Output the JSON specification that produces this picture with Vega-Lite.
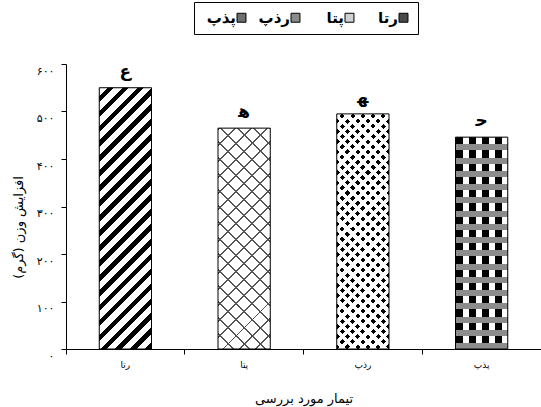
{
  "$schema": "https://vega.github.io/schema/vega-lite/v6.json",
  "autosize": {"type": "none"},
  "padding": {"left": 66, "top": 64, "right": 0, "bottom": 58},
  "width": 475,
  "height": 285,
  "config": {"font": "DejaVu Sans", "view": {"stroke": null}},
  "data": {"values": [
    {"cat": "رتا", "value": 550, "letter": "ع"},
    {"cat": "پتا", "value": 465, "letter": "ﻫ"},
    {"cat": "رذپ", "value": 495, "letter": "ﻬ"},
    {"cat": "پذپ", "value": 446, "letter": "ﺣ"}
  ]},
  "encoding": {
    "x": {"field": "cat", "type": "nominal", "sort": ["رتا", "پتا", "رذپ", "پذپ"],
      "scale": {"paddingInner": 0, "paddingOuter": 0},
      "axis": {"title": "تیمار مورد بررسی", "labelAngle": 0, "bandPosition": 0, "domainColor": "#000", "tickColor": "#000", "tickSize": 5,
        "labelFontSize": 9, "labelColor": "#000", "labelPadding": 6, "titleFontSize": 13, "titleFontWeight": "normal", "titleColor": "#000", "titleY": 49, "titleBaseline": "middle"}},
    "y": {"field": "value", "type": "quantitative", "scale": {"domain": [0, 600]},
      "axis": {"title": "افزایش وزن (گرم)", "values": [0, 100, 200, 300, 400, 500, 600], "grid": false, "domainColor": "#000", "tickColor": "#000", "tickSize": 5,
        "labelExpr": "datum.value == 0 ? '۰' : ['۰','۱','۲','۳','۴','۵','۶'][datum.value / 100] + '۰۰'",
        "labelFontSize": 11, "labelColor": "#000", "labelPadding": 7, "labelOffset": 7,
        "titleFontSize": 13, "titleFontWeight": "normal", "titleColor": "#000", "titleX": -48, "titleY": 163, "titleBaseline": "middle"}}
  },
  "layer": [
    {
      "mark": {"type": "bar", "width": {"band": 0.44}},
      "encoding": {"fill": {"field": "cat", "type": "nominal",
        "scale": {"domain": ["پذپ", "رذپ", "پتا", "رتا"], "range": ["#6e6e6e", "#8a8a8a", "#d0d0d0", "#4a4a4a"]},
        "legend": {"title": null, "orient": "none", "legendX": 128, "legendY": -62, "direction": "horizontal", "symbolType": "square", "symbolSize": 80,
          "symbolStrokeColor": "#000", "symbolStrokeWidth": 1, "labelFontSize": 15, "labelFontWeight": "bold", "labelColor": "#000", "columnPadding": 8,
          "labelAlign": "right", "labelOffset": -13, "symbolOffset": 32,
          "strokeColor": "#000", "fillColor": "#fff", "padding": 8}}}
    },
    {
      "transform": [{"filter": "datum.cat == 'رتا'"}],
      "mark": {"type": "bar", "width": {"band": 0.44}, "fill": {"gradient": "linear", "x1": 0, "y1": 0, "x2": 0.2308, "y2": 1.154, "stops": [
        {"offset": 0, "color": "#fff"}, {"offset": 0.0262, "color": "#fff"}, {"offset": 0.0262, "color": "#000"}, {"offset": 0.0476, "color": "#000"},
        {"offset": 0.0476, "color": "#fff"}, {"offset": 0.0738, "color": "#fff"}, {"offset": 0.0738, "color": "#000"}, {"offset": 0.0952, "color": "#000"},
        {"offset": 0.0952, "color": "#fff"}, {"offset": 0.1214, "color": "#fff"}, {"offset": 0.1214, "color": "#000"}, {"offset": 0.1429, "color": "#000"},
        {"offset": 0.1429, "color": "#fff"}, {"offset": 0.1690, "color": "#fff"}, {"offset": 0.1690, "color": "#000"}, {"offset": 0.1905, "color": "#000"},
        {"offset": 0.1905, "color": "#fff"}, {"offset": 0.2167, "color": "#fff"}, {"offset": 0.2167, "color": "#000"}, {"offset": 0.2381, "color": "#000"},
        {"offset": 0.2381, "color": "#fff"}, {"offset": 0.2643, "color": "#fff"}, {"offset": 0.2643, "color": "#000"}, {"offset": 0.2857, "color": "#000"},
        {"offset": 0.2857, "color": "#fff"}, {"offset": 0.3119, "color": "#fff"}, {"offset": 0.3119, "color": "#000"}, {"offset": 0.3333, "color": "#000"},
        {"offset": 0.3333, "color": "#fff"}, {"offset": 0.3595, "color": "#fff"}, {"offset": 0.3595, "color": "#000"}, {"offset": 0.3810, "color": "#000"},
        {"offset": 0.3810, "color": "#fff"}, {"offset": 0.4071, "color": "#fff"}, {"offset": 0.4071, "color": "#000"}, {"offset": 0.4286, "color": "#000"},
        {"offset": 0.4286, "color": "#fff"}, {"offset": 0.4548, "color": "#fff"}, {"offset": 0.4548, "color": "#000"}, {"offset": 0.4762, "color": "#000"},
        {"offset": 0.4762, "color": "#fff"}, {"offset": 0.5024, "color": "#fff"}, {"offset": 0.5024, "color": "#000"}, {"offset": 0.5238, "color": "#000"},
        {"offset": 0.5238, "color": "#fff"}, {"offset": 0.5500, "color": "#fff"}, {"offset": 0.5500, "color": "#000"}, {"offset": 0.5714, "color": "#000"},
        {"offset": 0.5714, "color": "#fff"}, {"offset": 0.5976, "color": "#fff"}, {"offset": 0.5976, "color": "#000"}, {"offset": 0.6190, "color": "#000"},
        {"offset": 0.6190, "color": "#fff"}, {"offset": 0.6452, "color": "#fff"}, {"offset": 0.6452, "color": "#000"}, {"offset": 0.6667, "color": "#000"},
        {"offset": 0.6667, "color": "#fff"}, {"offset": 0.6929, "color": "#fff"}, {"offset": 0.6929, "color": "#000"}, {"offset": 0.7143, "color": "#000"},
        {"offset": 0.7143, "color": "#fff"}, {"offset": 0.7405, "color": "#fff"}, {"offset": 0.7405, "color": "#000"}, {"offset": 0.7619, "color": "#000"},
        {"offset": 0.7619, "color": "#fff"}, {"offset": 0.7881, "color": "#fff"}, {"offset": 0.7881, "color": "#000"}, {"offset": 0.8095, "color": "#000"},
        {"offset": 0.8095, "color": "#fff"}, {"offset": 0.8357, "color": "#fff"}, {"offset": 0.8357, "color": "#000"}, {"offset": 0.8571, "color": "#000"},
        {"offset": 0.8571, "color": "#fff"}, {"offset": 0.8833, "color": "#fff"}, {"offset": 0.8833, "color": "#000"}, {"offset": 0.9048, "color": "#000"},
        {"offset": 0.9048, "color": "#fff"}, {"offset": 0.9310, "color": "#fff"}, {"offset": 0.9310, "color": "#000"}, {"offset": 0.9524, "color": "#000"},
        {"offset": 0.9524, "color": "#fff"}, {"offset": 0.9786, "color": "#fff"}, {"offset": 0.9786, "color": "#000"}, {"offset": 1, "color": "#000"}
      ]}}
    },
    {
      "transform": [{"filter": "datum.cat == 'پتا'"}],
      "mark": {"type": "bar", "width": {"band": 0.44}, "fill": {"gradient": "linear", "x1": 0, "y1": 0, "x2": 0.277, "y2": 1.171, "stops": [
        {"offset": 0, "color": "#555"}, {"offset": 0.0071, "color": "#555"}, {"offset": 0.0071, "color": "#fff"}, {"offset": 0.0588, "color": "#fff"},
        {"offset": 0.0588, "color": "#555"}, {"offset": 0.0659, "color": "#555"}, {"offset": 0.0659, "color": "#fff"}, {"offset": 0.1176, "color": "#fff"},
        {"offset": 0.1176, "color": "#555"}, {"offset": 0.1247, "color": "#555"}, {"offset": 0.1247, "color": "#fff"}, {"offset": 0.1765, "color": "#fff"},
        {"offset": 0.1765, "color": "#555"}, {"offset": 0.1836, "color": "#555"}, {"offset": 0.1836, "color": "#fff"}, {"offset": 0.2353, "color": "#fff"},
        {"offset": 0.2353, "color": "#555"}, {"offset": 0.2424, "color": "#555"}, {"offset": 0.2424, "color": "#fff"}, {"offset": 0.2941, "color": "#fff"},
        {"offset": 0.2941, "color": "#555"}, {"offset": 0.3012, "color": "#555"}, {"offset": 0.3012, "color": "#fff"}, {"offset": 0.3529, "color": "#fff"},
        {"offset": 0.3529, "color": "#555"}, {"offset": 0.3600, "color": "#555"}, {"offset": 0.3600, "color": "#fff"}, {"offset": 0.4118, "color": "#fff"},
        {"offset": 0.4118, "color": "#555"}, {"offset": 0.4189, "color": "#555"}, {"offset": 0.4189, "color": "#fff"}, {"offset": 0.4706, "color": "#fff"},
        {"offset": 0.4706, "color": "#555"}, {"offset": 0.4777, "color": "#555"}, {"offset": 0.4777, "color": "#fff"}, {"offset": 0.5294, "color": "#fff"},
        {"offset": 0.5294, "color": "#555"}, {"offset": 0.5365, "color": "#555"}, {"offset": 0.5365, "color": "#fff"}, {"offset": 0.5882, "color": "#fff"},
        {"offset": 0.5882, "color": "#555"}, {"offset": 0.5953, "color": "#555"}, {"offset": 0.5953, "color": "#fff"}, {"offset": 0.6471, "color": "#fff"},
        {"offset": 0.6471, "color": "#555"}, {"offset": 0.6542, "color": "#555"}, {"offset": 0.6542, "color": "#fff"}, {"offset": 0.7059, "color": "#fff"},
        {"offset": 0.7059, "color": "#555"}, {"offset": 0.7130, "color": "#555"}, {"offset": 0.7130, "color": "#fff"}, {"offset": 0.7647, "color": "#fff"},
        {"offset": 0.7647, "color": "#555"}, {"offset": 0.7718, "color": "#555"}, {"offset": 0.7718, "color": "#fff"}, {"offset": 0.8235, "color": "#fff"},
        {"offset": 0.8235, "color": "#555"}, {"offset": 0.8306, "color": "#555"}, {"offset": 0.8306, "color": "#fff"}, {"offset": 0.8824, "color": "#fff"},
        {"offset": 0.8824, "color": "#555"}, {"offset": 0.8895, "color": "#555"}, {"offset": 0.8895, "color": "#fff"}, {"offset": 0.9412, "color": "#fff"},
        {"offset": 0.9412, "color": "#555"}, {"offset": 0.9483, "color": "#555"}, {"offset": 0.9483, "color": "#fff"}, {"offset": 1, "color": "#fff"}
      ]}}
    },
    {
      "transform": [{"filter": "datum.cat == 'پتا'"}],
      "mark": {"type": "bar", "width": {"band": 0.44}, "fill": {"gradient": "linear", "x1": 1, "y1": 0, "x2": 0.723, "y2": 1.171, "stops": [
        {"offset": 0, "color": "#555"}, {"offset": 0.0071, "color": "#555"}, {"offset": 0.0071, "color": "rgba(0,0,0,0)"}, {"offset": 0.0588, "color": "rgba(0,0,0,0)"},
        {"offset": 0.0588, "color": "#555"}, {"offset": 0.0659, "color": "#555"}, {"offset": 0.0659, "color": "rgba(0,0,0,0)"}, {"offset": 0.1176, "color": "rgba(0,0,0,0)"},
        {"offset": 0.1176, "color": "#555"}, {"offset": 0.1247, "color": "#555"}, {"offset": 0.1247, "color": "rgba(0,0,0,0)"}, {"offset": 0.1765, "color": "rgba(0,0,0,0)"},
        {"offset": 0.1765, "color": "#555"}, {"offset": 0.1836, "color": "#555"}, {"offset": 0.1836, "color": "rgba(0,0,0,0)"}, {"offset": 0.2353, "color": "rgba(0,0,0,0)"},
        {"offset": 0.2353, "color": "#555"}, {"offset": 0.2424, "color": "#555"}, {"offset": 0.2424, "color": "rgba(0,0,0,0)"}, {"offset": 0.2941, "color": "rgba(0,0,0,0)"},
        {"offset": 0.2941, "color": "#555"}, {"offset": 0.3012, "color": "#555"}, {"offset": 0.3012, "color": "rgba(0,0,0,0)"}, {"offset": 0.3529, "color": "rgba(0,0,0,0)"},
        {"offset": 0.3529, "color": "#555"}, {"offset": 0.3600, "color": "#555"}, {"offset": 0.3600, "color": "rgba(0,0,0,0)"}, {"offset": 0.4118, "color": "rgba(0,0,0,0)"},
        {"offset": 0.4118, "color": "#555"}, {"offset": 0.4189, "color": "#555"}, {"offset": 0.4189, "color": "rgba(0,0,0,0)"}, {"offset": 0.4706, "color": "rgba(0,0,0,0)"},
        {"offset": 0.4706, "color": "#555"}, {"offset": 0.4777, "color": "#555"}, {"offset": 0.4777, "color": "rgba(0,0,0,0)"}, {"offset": 0.5294, "color": "rgba(0,0,0,0)"},
        {"offset": 0.5294, "color": "#555"}, {"offset": 0.5365, "color": "#555"}, {"offset": 0.5365, "color": "rgba(0,0,0,0)"}, {"offset": 0.5882, "color": "rgba(0,0,0,0)"},
        {"offset": 0.5882, "color": "#555"}, {"offset": 0.5953, "color": "#555"}, {"offset": 0.5953, "color": "rgba(0,0,0,0)"}, {"offset": 0.6471, "color": "rgba(0,0,0,0)"},
        {"offset": 0.6471, "color": "#555"}, {"offset": 0.6542, "color": "#555"}, {"offset": 0.6542, "color": "rgba(0,0,0,0)"}, {"offset": 0.7059, "color": "rgba(0,0,0,0)"},
        {"offset": 0.7059, "color": "#555"}, {"offset": 0.7130, "color": "#555"}, {"offset": 0.7130, "color": "rgba(0,0,0,0)"}, {"offset": 0.7647, "color": "rgba(0,0,0,0)"},
        {"offset": 0.7647, "color": "#555"}, {"offset": 0.7718, "color": "#555"}, {"offset": 0.7718, "color": "rgba(0,0,0,0)"}, {"offset": 0.8235, "color": "rgba(0,0,0,0)"},
        {"offset": 0.8235, "color": "#555"}, {"offset": 0.8306, "color": "#555"}, {"offset": 0.8306, "color": "rgba(0,0,0,0)"}, {"offset": 0.8824, "color": "rgba(0,0,0,0)"},
        {"offset": 0.8824, "color": "#555"}, {"offset": 0.8895, "color": "#555"}, {"offset": 0.8895, "color": "rgba(0,0,0,0)"}, {"offset": 0.9412, "color": "rgba(0,0,0,0)"},
        {"offset": 0.9412, "color": "#555"}, {"offset": 0.9483, "color": "#555"}, {"offset": 0.9483, "color": "rgba(0,0,0,0)"}, {"offset": 1, "color": "rgba(0,0,0,0)"}
      ]}}
    },
    {
      "transform": [{"filter": "datum.cat == 'رذپ'"}],
      "mark": {"type": "bar", "width": {"band": 0.44}, "fill": {"gradient": "linear", "x1": 0, "y1": 0, "x2": 0.2588, "y2": 1.165, "stops": [
        {"offset": 0, "color": "#fff"}, {"offset": 0.0180, "color": "#fff"}, {"offset": 0.0180, "color": "#000"}, {"offset": 0.0357, "color": "#000"},
        {"offset": 0.0357, "color": "#fff"}, {"offset": 0.0537, "color": "#fff"}, {"offset": 0.0537, "color": "#000"}, {"offset": 0.0714, "color": "#000"},
        {"offset": 0.0714, "color": "#fff"}, {"offset": 0.0894, "color": "#fff"}, {"offset": 0.0894, "color": "#000"}, {"offset": 0.1071, "color": "#000"},
        {"offset": 0.1071, "color": "#fff"}, {"offset": 0.1251, "color": "#fff"}, {"offset": 0.1251, "color": "#000"}, {"offset": 0.1429, "color": "#000"},
        {"offset": 0.1429, "color": "#fff"}, {"offset": 0.1609, "color": "#fff"}, {"offset": 0.1609, "color": "#000"}, {"offset": 0.1786, "color": "#000"},
        {"offset": 0.1786, "color": "#fff"}, {"offset": 0.1966, "color": "#fff"}, {"offset": 0.1966, "color": "#000"}, {"offset": 0.2143, "color": "#000"},
        {"offset": 0.2143, "color": "#fff"}, {"offset": 0.2323, "color": "#fff"}, {"offset": 0.2323, "color": "#000"}, {"offset": 0.2500, "color": "#000"},
        {"offset": 0.2500, "color": "#fff"}, {"offset": 0.2680, "color": "#fff"}, {"offset": 0.2680, "color": "#000"}, {"offset": 0.2857, "color": "#000"},
        {"offset": 0.2857, "color": "#fff"}, {"offset": 0.3037, "color": "#fff"}, {"offset": 0.3037, "color": "#000"}, {"offset": 0.3214, "color": "#000"},
        {"offset": 0.3214, "color": "#fff"}, {"offset": 0.3394, "color": "#fff"}, {"offset": 0.3394, "color": "#000"}, {"offset": 0.3571, "color": "#000"},
        {"offset": 0.3571, "color": "#fff"}, {"offset": 0.3751, "color": "#fff"}, {"offset": 0.3751, "color": "#000"}, {"offset": 0.3929, "color": "#000"},
        {"offset": 0.3929, "color": "#fff"}, {"offset": 0.4109, "color": "#fff"}, {"offset": 0.4109, "color": "#000"}, {"offset": 0.4286, "color": "#000"},
        {"offset": 0.4286, "color": "#fff"}, {"offset": 0.4466, "color": "#fff"}, {"offset": 0.4466, "color": "#000"}, {"offset": 0.4643, "color": "#000"},
        {"offset": 0.4643, "color": "#fff"}, {"offset": 0.4823, "color": "#fff"}, {"offset": 0.4823, "color": "#000"}, {"offset": 0.5000, "color": "#000"},
        {"offset": 0.5000, "color": "#fff"}, {"offset": 0.5180, "color": "#fff"}, {"offset": 0.5180, "color": "#000"}, {"offset": 0.5357, "color": "#000"},
        {"offset": 0.5357, "color": "#fff"}, {"offset": 0.5537, "color": "#fff"}, {"offset": 0.5537, "color": "#000"}, {"offset": 0.5714, "color": "#000"},
        {"offset": 0.5714, "color": "#fff"}, {"offset": 0.5894, "color": "#fff"}, {"offset": 0.5894, "color": "#000"}, {"offset": 0.6071, "color": "#000"},
        {"offset": 0.6071, "color": "#fff"}, {"offset": 0.6251, "color": "#fff"}, {"offset": 0.6251, "color": "#000"}, {"offset": 0.6429, "color": "#000"},
        {"offset": 0.6429, "color": "#fff"}, {"offset": 0.6609, "color": "#fff"}, {"offset": 0.6609, "color": "#000"}, {"offset": 0.6786, "color": "#000"},
        {"offset": 0.6786, "color": "#fff"}, {"offset": 0.6966, "color": "#fff"}, {"offset": 0.6966, "color": "#000"}, {"offset": 0.7143, "color": "#000"},
        {"offset": 0.7143, "color": "#fff"}, {"offset": 0.7323, "color": "#fff"}, {"offset": 0.7323, "color": "#000"}, {"offset": 0.7500, "color": "#000"},
        {"offset": 0.7500, "color": "#fff"}, {"offset": 0.7680, "color": "#fff"}, {"offset": 0.7680, "color": "#000"}, {"offset": 0.7857, "color": "#000"},
        {"offset": 0.7857, "color": "#fff"}, {"offset": 0.8037, "color": "#fff"}, {"offset": 0.8037, "color": "#000"}, {"offset": 0.8214, "color": "#000"},
        {"offset": 0.8214, "color": "#fff"}, {"offset": 0.8394, "color": "#fff"}, {"offset": 0.8394, "color": "#000"}, {"offset": 0.8571, "color": "#000"},
        {"offset": 0.8571, "color": "#fff"}, {"offset": 0.8751, "color": "#fff"}, {"offset": 0.8751, "color": "#000"}, {"offset": 0.8929, "color": "#000"},
        {"offset": 0.8929, "color": "#fff"}, {"offset": 0.9109, "color": "#fff"}, {"offset": 0.9109, "color": "#000"}, {"offset": 0.9286, "color": "#000"},
        {"offset": 0.9286, "color": "#fff"}, {"offset": 0.9466, "color": "#fff"}, {"offset": 0.9466, "color": "#000"}, {"offset": 0.9643, "color": "#000"},
        {"offset": 0.9643, "color": "#fff"}, {"offset": 0.9823, "color": "#fff"}, {"offset": 0.9823, "color": "#000"}, {"offset": 1, "color": "#000"}
      ]}}
    },
    {
      "transform": [{"filter": "datum.cat == 'رذپ'"}],
      "mark": {"type": "bar", "width": {"band": 0.44}, "fill": {"gradient": "linear", "x1": 1, "y1": 0, "x2": 0.7412, "y2": 1.165, "stops": [
        {"offset": 0, "color": "#fff"}, {"offset": 0.0180, "color": "#fff"}, {"offset": 0.0180, "color": "rgba(0,0,0,0)"}, {"offset": 0.0357, "color": "rgba(0,0,0,0)"},
        {"offset": 0.0357, "color": "#fff"}, {"offset": 0.0537, "color": "#fff"}, {"offset": 0.0537, "color": "rgba(0,0,0,0)"}, {"offset": 0.0714, "color": "rgba(0,0,0,0)"},
        {"offset": 0.0714, "color": "#fff"}, {"offset": 0.0894, "color": "#fff"}, {"offset": 0.0894, "color": "rgba(0,0,0,0)"}, {"offset": 0.1071, "color": "rgba(0,0,0,0)"},
        {"offset": 0.1071, "color": "#fff"}, {"offset": 0.1251, "color": "#fff"}, {"offset": 0.1251, "color": "rgba(0,0,0,0)"}, {"offset": 0.1429, "color": "rgba(0,0,0,0)"},
        {"offset": 0.1429, "color": "#fff"}, {"offset": 0.1609, "color": "#fff"}, {"offset": 0.1609, "color": "rgba(0,0,0,0)"}, {"offset": 0.1786, "color": "rgba(0,0,0,0)"},
        {"offset": 0.1786, "color": "#fff"}, {"offset": 0.1966, "color": "#fff"}, {"offset": 0.1966, "color": "rgba(0,0,0,0)"}, {"offset": 0.2143, "color": "rgba(0,0,0,0)"},
        {"offset": 0.2143, "color": "#fff"}, {"offset": 0.2323, "color": "#fff"}, {"offset": 0.2323, "color": "rgba(0,0,0,0)"}, {"offset": 0.2500, "color": "rgba(0,0,0,0)"},
        {"offset": 0.2500, "color": "#fff"}, {"offset": 0.2680, "color": "#fff"}, {"offset": 0.2680, "color": "rgba(0,0,0,0)"}, {"offset": 0.2857, "color": "rgba(0,0,0,0)"},
        {"offset": 0.2857, "color": "#fff"}, {"offset": 0.3037, "color": "#fff"}, {"offset": 0.3037, "color": "rgba(0,0,0,0)"}, {"offset": 0.3214, "color": "rgba(0,0,0,0)"},
        {"offset": 0.3214, "color": "#fff"}, {"offset": 0.3394, "color": "#fff"}, {"offset": 0.3394, "color": "rgba(0,0,0,0)"}, {"offset": 0.3571, "color": "rgba(0,0,0,0)"},
        {"offset": 0.3571, "color": "#fff"}, {"offset": 0.3751, "color": "#fff"}, {"offset": 0.3751, "color": "rgba(0,0,0,0)"}, {"offset": 0.3929, "color": "rgba(0,0,0,0)"},
        {"offset": 0.3929, "color": "#fff"}, {"offset": 0.4109, "color": "#fff"}, {"offset": 0.4109, "color": "rgba(0,0,0,0)"}, {"offset": 0.4286, "color": "rgba(0,0,0,0)"},
        {"offset": 0.4286, "color": "#fff"}, {"offset": 0.4466, "color": "#fff"}, {"offset": 0.4466, "color": "rgba(0,0,0,0)"}, {"offset": 0.4643, "color": "rgba(0,0,0,0)"},
        {"offset": 0.4643, "color": "#fff"}, {"offset": 0.4823, "color": "#fff"}, {"offset": 0.4823, "color": "rgba(0,0,0,0)"}, {"offset": 0.5000, "color": "rgba(0,0,0,0)"},
        {"offset": 0.5000, "color": "#fff"}, {"offset": 0.5180, "color": "#fff"}, {"offset": 0.5180, "color": "rgba(0,0,0,0)"}, {"offset": 0.5357, "color": "rgba(0,0,0,0)"},
        {"offset": 0.5357, "color": "#fff"}, {"offset": 0.5537, "color": "#fff"}, {"offset": 0.5537, "color": "rgba(0,0,0,0)"}, {"offset": 0.5714, "color": "rgba(0,0,0,0)"},
        {"offset": 0.5714, "color": "#fff"}, {"offset": 0.5894, "color": "#fff"}, {"offset": 0.5894, "color": "rgba(0,0,0,0)"}, {"offset": 0.6071, "color": "rgba(0,0,0,0)"},
        {"offset": 0.6071, "color": "#fff"}, {"offset": 0.6251, "color": "#fff"}, {"offset": 0.6251, "color": "rgba(0,0,0,0)"}, {"offset": 0.6429, "color": "rgba(0,0,0,0)"},
        {"offset": 0.6429, "color": "#fff"}, {"offset": 0.6609, "color": "#fff"}, {"offset": 0.6609, "color": "rgba(0,0,0,0)"}, {"offset": 0.6786, "color": "rgba(0,0,0,0)"},
        {"offset": 0.6786, "color": "#fff"}, {"offset": 0.6966, "color": "#fff"}, {"offset": 0.6966, "color": "rgba(0,0,0,0)"}, {"offset": 0.7143, "color": "rgba(0,0,0,0)"},
        {"offset": 0.7143, "color": "#fff"}, {"offset": 0.7323, "color": "#fff"}, {"offset": 0.7323, "color": "rgba(0,0,0,0)"}, {"offset": 0.7500, "color": "rgba(0,0,0,0)"},
        {"offset": 0.7500, "color": "#fff"}, {"offset": 0.7680, "color": "#fff"}, {"offset": 0.7680, "color": "rgba(0,0,0,0)"}, {"offset": 0.7857, "color": "rgba(0,0,0,0)"},
        {"offset": 0.7857, "color": "#fff"}, {"offset": 0.8037, "color": "#fff"}, {"offset": 0.8037, "color": "rgba(0,0,0,0)"}, {"offset": 0.8214, "color": "rgba(0,0,0,0)"},
        {"offset": 0.8214, "color": "#fff"}, {"offset": 0.8394, "color": "#fff"}, {"offset": 0.8394, "color": "rgba(0,0,0,0)"}, {"offset": 0.8571, "color": "rgba(0,0,0,0)"},
        {"offset": 0.8571, "color": "#fff"}, {"offset": 0.8751, "color": "#fff"}, {"offset": 0.8751, "color": "rgba(0,0,0,0)"}, {"offset": 0.8929, "color": "rgba(0,0,0,0)"},
        {"offset": 0.8929, "color": "#fff"}, {"offset": 0.9109, "color": "#fff"}, {"offset": 0.9109, "color": "rgba(0,0,0,0)"}, {"offset": 0.9286, "color": "rgba(0,0,0,0)"},
        {"offset": 0.9286, "color": "#fff"}, {"offset": 0.9466, "color": "#fff"}, {"offset": 0.9466, "color": "rgba(0,0,0,0)"}, {"offset": 0.9643, "color": "rgba(0,0,0,0)"},
        {"offset": 0.9643, "color": "#fff"}, {"offset": 0.9823, "color": "#fff"}, {"offset": 0.9823, "color": "rgba(0,0,0,0)"}, {"offset": 1, "color": "rgba(0,0,0,0)"}
      ]}}
    },
    {
      "transform": [{"filter": "datum.cat == 'پذپ'"}],
      "mark": {"type": "bar", "width": {"band": 0.44}, "fill": {"gradient": "linear", "x1": 0, "y1": 0, "x2": 1, "y2": 0, "stops": [
        {"offset": 0, "color": "#000"}, {"offset": 0.1375, "color": "#000"}, {"offset": 0.1375, "color": "#fff"}, {"offset": 0.25, "color": "#fff"},
        {"offset": 0.25, "color": "#000"}, {"offset": 0.3875, "color": "#000"}, {"offset": 0.3875, "color": "#fff"}, {"offset": 0.5, "color": "#fff"},
        {"offset": 0.5, "color": "#000"}, {"offset": 0.6375, "color": "#000"}, {"offset": 0.6375, "color": "#fff"}, {"offset": 0.75, "color": "#fff"},
        {"offset": 0.75, "color": "#000"}, {"offset": 0.8875, "color": "#000"}, {"offset": 0.8875, "color": "#fff"}, {"offset": 1, "color": "#fff"}
      ]}}
    },
    {
      "transform": [{"filter": "datum.cat == 'پذپ'"}],
      "mark": {"type": "bar", "width": {"band": 0.44}, "fill": {"gradient": "linear", "x1": 0, "y1": 0, "x2": 0, "y2": 1, "stops": [
        {"offset": 0, "color": "rgba(0,0,0,0)"}, {"offset": 0.0344, "color": "rgba(0,0,0,0)"}, {"offset": 0.0344, "color": "#8c8c8c"}, {"offset": 0.0625, "color": "#8c8c8c"},
        {"offset": 0.0625, "color": "rgba(0,0,0,0)"}, {"offset": 0.0969, "color": "rgba(0,0,0,0)"}, {"offset": 0.0969, "color": "#8c8c8c"}, {"offset": 0.125, "color": "#8c8c8c"},
        {"offset": 0.125, "color": "rgba(0,0,0,0)"}, {"offset": 0.1594, "color": "rgba(0,0,0,0)"}, {"offset": 0.1594, "color": "#8c8c8c"}, {"offset": 0.1875, "color": "#8c8c8c"},
        {"offset": 0.1875, "color": "rgba(0,0,0,0)"}, {"offset": 0.2219, "color": "rgba(0,0,0,0)"}, {"offset": 0.2219, "color": "#8c8c8c"}, {"offset": 0.25, "color": "#8c8c8c"},
        {"offset": 0.25, "color": "rgba(0,0,0,0)"}, {"offset": 0.2844, "color": "rgba(0,0,0,0)"}, {"offset": 0.2844, "color": "#8c8c8c"}, {"offset": 0.3125, "color": "#8c8c8c"},
        {"offset": 0.3125, "color": "rgba(0,0,0,0)"}, {"offset": 0.3469, "color": "rgba(0,0,0,0)"}, {"offset": 0.3469, "color": "#8c8c8c"}, {"offset": 0.375, "color": "#8c8c8c"},
        {"offset": 0.375, "color": "rgba(0,0,0,0)"}, {"offset": 0.4094, "color": "rgba(0,0,0,0)"}, {"offset": 0.4094, "color": "#8c8c8c"}, {"offset": 0.4375, "color": "#8c8c8c"},
        {"offset": 0.4375, "color": "rgba(0,0,0,0)"}, {"offset": 0.4719, "color": "rgba(0,0,0,0)"}, {"offset": 0.4719, "color": "#8c8c8c"}, {"offset": 0.5, "color": "#8c8c8c"},
        {"offset": 0.5, "color": "rgba(0,0,0,0)"}, {"offset": 0.5344, "color": "rgba(0,0,0,0)"}, {"offset": 0.5344, "color": "#8c8c8c"}, {"offset": 0.5625, "color": "#8c8c8c"},
        {"offset": 0.5625, "color": "rgba(0,0,0,0)"}, {"offset": 0.5969, "color": "rgba(0,0,0,0)"}, {"offset": 0.5969, "color": "#8c8c8c"}, {"offset": 0.625, "color": "#8c8c8c"},
        {"offset": 0.625, "color": "rgba(0,0,0,0)"}, {"offset": 0.6594, "color": "rgba(0,0,0,0)"}, {"offset": 0.6594, "color": "#8c8c8c"}, {"offset": 0.6875, "color": "#8c8c8c"},
        {"offset": 0.6875, "color": "rgba(0,0,0,0)"}, {"offset": 0.7219, "color": "rgba(0,0,0,0)"}, {"offset": 0.7219, "color": "#8c8c8c"}, {"offset": 0.75, "color": "#8c8c8c"},
        {"offset": 0.75, "color": "rgba(0,0,0,0)"}, {"offset": 0.7844, "color": "rgba(0,0,0,0)"}, {"offset": 0.7844, "color": "#8c8c8c"}, {"offset": 0.8125, "color": "#8c8c8c"},
        {"offset": 0.8125, "color": "rgba(0,0,0,0)"}, {"offset": 0.8469, "color": "rgba(0,0,0,0)"}, {"offset": 0.8469, "color": "#8c8c8c"}, {"offset": 0.875, "color": "#8c8c8c"},
        {"offset": 0.875, "color": "rgba(0,0,0,0)"}, {"offset": 0.9094, "color": "rgba(0,0,0,0)"}, {"offset": 0.9094, "color": "#8c8c8c"}, {"offset": 0.9375, "color": "#8c8c8c"},
        {"offset": 0.9375, "color": "rgba(0,0,0,0)"}, {"offset": 0.9719, "color": "rgba(0,0,0,0)"}, {"offset": 0.9719, "color": "#8c8c8c"}, {"offset": 1, "color": "#8c8c8c"}
      ]}}
    },
    {
      "mark": {"type": "bar", "width": {"band": 0.44}, "filled": false, "stroke": "#000", "strokeWidth": 1}
    },
    {
      "mark": {"type": "text", "baseline": "bottom", "dy": -7, "fontSize": 17, "fontWeight": "bold", "color": "#000"},
      "encoding": {"text": {"field": "letter", "type": "nominal"}}
    }
  ]
}
